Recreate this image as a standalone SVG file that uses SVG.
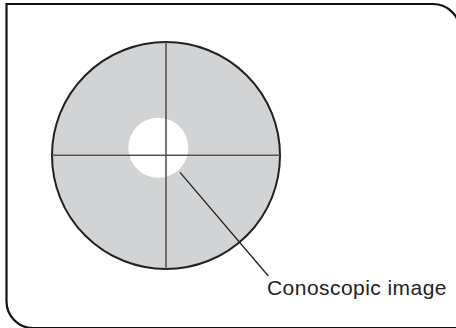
<svg xmlns="http://www.w3.org/2000/svg" width="456" height="328" viewBox="0 0 456 328">
<style>
.frame{fill:#fff;stroke:#111;stroke-width:2.2}
.disc{fill:#d2d3d5;stroke:#222;stroke-width:2}
.cross{stroke:#555;stroke-width:1.6;fill:none}
.lead{stroke:#222;stroke-width:1.3;fill:none}
.lbl{font-family:"Liberation Sans",Arial,sans-serif;font-size:21px;fill:#222}
</style>
<rect width="456" height="328" fill="#fff"/>
<path class="frame" d="M6.5,4 H433 A27,27 0 0 1 460,31 V328.2 H33 A27,27 0 0 1 6.5,301 Z"/>
<g id="conoscope">
<ellipse class="disc" cx="166" cy="155.5" rx="114" ry="113.5"/>
<circle cx="158.3" cy="147.8" r="30" fill="#fff"/>
<line class="cross" x1="52" y1="155.3" x2="280" y2="155.3"/>
<line class="cross" x1="166" y1="42" x2="166" y2="269"/>
</g>
<g id="connectors">
<line class="lead" x1="180" y1="172.3" x2="268.3" y2="276"/>
</g>
<g id="label">
<text class="lbl" x="267" y="294.5" textLength="179.5" lengthAdjust="spacing">Conoscopic image</text>
</g>
</svg>
